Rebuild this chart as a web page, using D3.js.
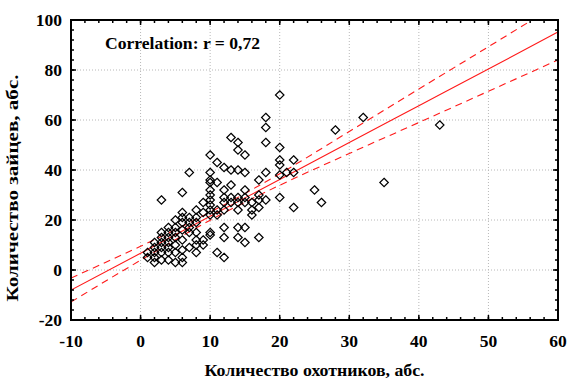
<!DOCTYPE html>
<html><head><meta charset="utf-8">
<script src="https://cdn.jsdelivr.net/npm/d3@7"></script>
<style>
body{margin:0;background:#fff;}
text{font-family:"Liberation Serif","Times New Roman",serif;font-weight:bold;fill:#000;}
</style></head>
<body><svg id="c" width="567" height="379"></svg>
<script>
// Data: hunters (x) -> hares (y) observations
const hunters = [1,1, 2,2,2,2,2, 3,3,3,3,3,3,3, 4,4,4,4,4,4,4, 5,5,5,5,5,5,5,
 6,6,6,6,6,6,6,6,6, 7,7,7,7,7,7, 8,8,8,8,8,8,8, 9,9,9,9,
 10,10,10,10,10,10,10,10,10,10,10,10, 11,11,11,11,11, 12,12,12,12,12,12,12,12,
 13,13,13,13,13, 14,14,14,14,14,14,14,14, 15,15,15,15,15,15,15, 16,16,16,
 17,17,17,17,17, 18,18,18,18,18, 20,20,20,20,20,20, 21, 22,22,22, 25, 26, 28, 32, 35, 43];
const hares = [5,7, 3,5,7,9,11, 4,7,9,11,13,15,28, 4,7,9,11,13,15,17, 3,7,10,13,15,17,20,
 3,5,8,12,16,19,21,23,31, 9,15,17,19,21,39, 7,10,12,15,19,21,24, 10,12,23,27,
 14,15,22,24,26,28,30,32,35,36,39,46, 7,22,24,35,43, 5,13,17,24,27,29,32,41,
 27,29,34,40,53, 13,17,24,27,29,40,48,51, 11,17,27,29,32,39,46, 22,24,27,
 13,25,28,30,36, 28,39,51,57,61, 29,38,42,44,49,70, 39, 25,39,44, 32, 27, 56, 61, 35, 58];
// Regression line and 95% confidence band
const fitX   = [-10, 0, 10, 20, 30, 40, 50, 60];
const fitY   = [-8, 6.7, 21.5, 36.2, 51, 65.7, 80.4, 95.2];
const upperY = [-3.2, 9.5, 23.1, 38.5, 55.4, 72.4, 89.3, 106.4];
const lowerY = [-12.8, 3.9, 19.9, 33.9, 46.6, 59, 71.5, 84];
const xTicks = [-10, 0, 10, 20, 30, 40, 50, 60];
const yTicks = [-20, 0, 20, 40, 60, 80, 100];
const annotation = "Correlation: r = 0,72";
const xTitle = "Количество охотников, абс.";
const yTitle = "Количество зайцев, абс.";

const L = 71, R = 558, T = 20, B = 320;
const svg = d3.select("#c");
const x = d3.scaleLinear().domain([-10, 60]).range([L, R]);
const y = d3.scaleLinear().domain([-20, 100]).range([B, T]);

svg.append("defs").append("clipPath").attr("id","clip")
  .append("rect").attr("x",L).attr("y",T).attr("width",R-L).attr("height",B-T);

// grid
const g = svg.append("g");
g.selectAll(".gx").data(xTicks.slice(1,-1)).join("line")
  .attr("x1",d=>x(d)).attr("x2",d=>x(d)).attr("y1",T).attr("y2",B)
  .attr("stroke","#b8b8b8").attr("stroke-width",1).attr("stroke-dasharray","1,2");
g.selectAll(".gy").data(yTicks.slice(1,-1)).join("line")
  .attr("y1",d=>y(d)).attr("y2",d=>y(d)).attr("x1",L).attr("x2",R)
  .attr("stroke","#b8b8b8").attr("stroke-width",1).attr("stroke-dasharray","1,2");

// regression & bands
const pl = svg.append("g").attr("clip-path","url(#clip)");
const mk = arr => d3.line().x((d,i)=>x(fitX[i])).y(d=>y(d)).curve(d3.curveMonotoneX)(arr);
pl.append("path").attr("d",mk(fitY)).attr("fill","none").attr("stroke","#ff1a1a").attr("stroke-width",1.1);
pl.append("path").attr("d",mk(upperY)).attr("fill","none").attr("stroke","#ff1a1a").attr("stroke-width",1.1).attr("stroke-dasharray","7,5");
pl.append("path").attr("d",mk(lowerY)).attr("fill","none").attr("stroke","#ff1a1a").attr("stroke-width",1.1).attr("stroke-dasharray","7,5");

// points
const sym = d3.symbol().type(d3.symbolDiamond2).size(46);
pl.selectAll(".pt").data(hunters.map((h,i)=>[h,hares[i]])).join("path")
  .attr("transform",d=>`translate(${x(d[0])},${y(d[1])})`)
  .attr("d",sym).attr("fill","none").attr("stroke","#000").attr("stroke-width",1.2);

// axes with inside ticks on all four sides
const xMinor = d3.range(-10, 60.01, 2), yMinor = d3.range(-20, 100.01, 4);
const ax = svg.append("g").attr("stroke","#000");
function ticks(vals, len, w){
  vals.forEach(v=>{
    ax.append("line").attr("x1",x(v)).attr("x2",x(v)).attr("y1",B).attr("y2",B-len).attr("stroke-width",w);
    ax.append("line").attr("x1",x(v)).attr("x2",x(v)).attr("y1",T).attr("y2",T+len).attr("stroke-width",w);
  });
}
function ticksY(vals, len, w){
  vals.forEach(v=>{
    ax.append("line").attr("y1",y(v)).attr("y2",y(v)).attr("x1",L).attr("x2",L+len).attr("stroke-width",w);
    ax.append("line").attr("y1",y(v)).attr("y2",y(v)).attr("x1",R).attr("x2",R-len).attr("stroke-width",w);
  });
}
ticks(xMinor, 3, 1.5); ticks(xTicks, 5, 1.5);
ticksY(yMinor, 3, 1.5); ticksY(yTicks, 5, 1.5);
svg.append("rect").attr("x",L).attr("y",T).attr("width",R-L).attr("height",B-T)
  .attr("fill","none").attr("stroke","#000").attr("stroke-width",2);

// tick labels
svg.selectAll(".xl").data(xTicks).join("text")
  .attr("x",d=>x(d)).attr("y",346.5).attr("text-anchor","middle").attr("font-size",17.5).text(d=>d);
svg.selectAll(".yl").data(yTicks).join("text")
  .attr("x",62).attr("y",d=>y(d)+6).attr("text-anchor","end").attr("font-size",17.5).text(d=>d);

// titles
svg.append("text").attr("x",(L+R)/2).attr("y",376).attr("text-anchor","middle").attr("font-size",16)
  .attr("textLength",220).attr("lengthAdjust","spacingAndGlyphs").text(xTitle);
svg.append("text").attr("transform","translate(18,188) rotate(-90)").attr("text-anchor","middle").attr("font-size",16)
  .attr("textLength",227).attr("lengthAdjust","spacingAndGlyphs").text(yTitle);
svg.append("text").attr("x",105).attr("y",49).attr("font-size",17)
  .attr("textLength",155).attr("lengthAdjust","spacingAndGlyphs").text(annotation);
</script></body></html>
